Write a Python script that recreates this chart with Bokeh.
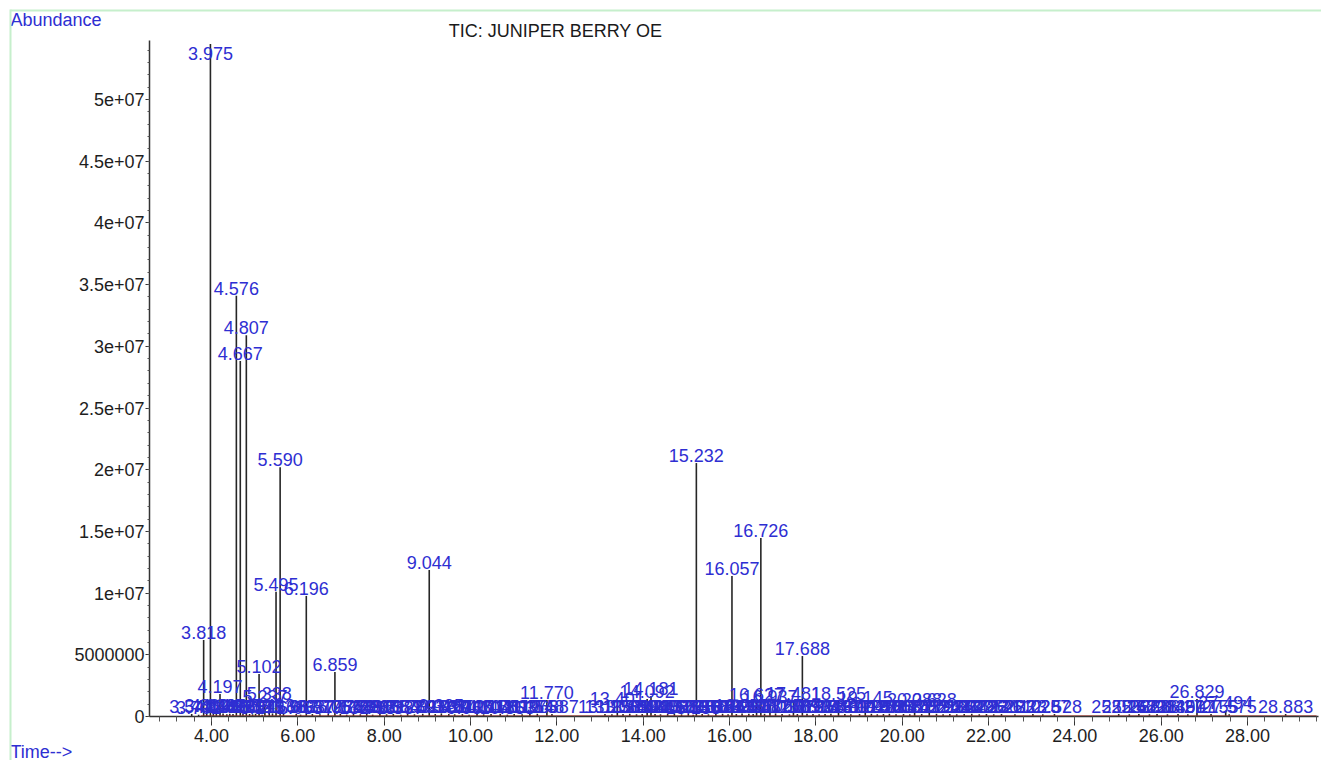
import numpy as np
from bokeh.plotting import figure
from bokeh.models import (ColumnDataSource, FixedTicker, NumeralTickFormatter,
                          Label, BoxAnnotation, Range1d)
from bokeh.core.properties import value
from bokeh.embed import file_html
from bokeh.resources import INLINE

# ---------------- data ----------------
title_text = "TIC: JUNIPER BERRY OE"
y_title = "Abundance"
x_title = "Time-->"

# labelled, clearly visible peaks (retention time, abundance at apex)
major_rt = [3.818, 3.975, 4.197, 4.576, 4.667, 4.807, 5.102, 5.237, 5.338,
            5.495, 5.590, 6.196, 6.859, 9.044, 11.770, 13.401, 14.092, 14.181,
            15.232, 16.057, 16.627, 16.726, 16.937, 17.481, 17.688, 18.525,
            19.145, 20.288, 20.628, 26.829, 27.494]
major_h = [6.2e6, 5.45e7, 1.82e6, 3.41e7, 2.88e7, 3.09e7, 3.44e6, 1.0e6, 1.26e6,
           1.01e7, 2.02e7, 9.77e6, 3.61e6, 1.187e7, 1.34e6, 0.85e6, 1.42e6, 1.66e6,
           2.054e7, 1.139e7, 1.2e6, 1.447e7, 1.0e6, 1.25e6, 4.9e6, 1.28e6,
           0.9e6, 0.75e6, 0.78e6, 1.42e6, 0.5e6]

# small peaks along the baseline (retention time, abundance)
minor_rt = [3.541, 3.702, 3.889, 4.043, 4.112, 4.268, 4.355, 4.423, 4.498, 4.729,
            4.882, 4.951, 5.021, 5.173, 5.413, 5.668, 5.963, 6.063, 6.337, 6.512,
            6.705, 6.985, 7.132, 7.289, 7.448, 7.596, 7.733, 7.901, 8.056, 8.212,
            8.387, 8.543, 8.702, 8.893, 9.183, 9.325, 9.497, 9.634, 9.812, 9.967,
            10.151, 10.304, 10.476, 10.689, 10.853, 11.012, 11.196, 11.375, 11.548,
            11.887, 13.115, 13.276, 13.533, 13.689, 13.846, 13.978, 14.275, 14.402,
            14.567, 14.723, 14.889, 15.046, 15.158, 15.367, 15.512, 15.684, 15.839,
            15.967, 16.158, 16.291, 16.448, 16.548, 16.812, 17.067, 17.218, 17.388,
            17.572, 17.795, 17.934, 18.076, 18.213, 18.349, 18.672, 18.811, 19.012,
            19.287, 19.423, 19.566, 19.704, 19.858, 20.031, 20.176, 20.452, 20.795,
            20.948, 21.103, 21.264, 21.437, 21.612, 21.786, 21.952, 22.121, 22.301,
            22.612, 23.028, 23.257, 23.528, 25.016, 25.262, 25.483, 25.728, 25.904,
            26.145, 26.390, 26.617, 27.155, 27.575, 28.883]
minor_h = [2.0e5, 1.5e5, 2.5e5, 3.0e5, 2.0e5, 2.5e5, 1.8e5, 2.2e5, 2.0e5, 2.5e5,
           2.0e5, 1.8e5, 2.2e5, 1.5e5, 2.5e5, 2.0e5, 2.0e5, 1.5e5, 2.0e5, 1.8e5,
           2.0e5, 2.2e5, 1.5e5, 2.0e5, 1.8e5, 2.0e5, 1.5e5, 2.2e5, 1.8e5, 2.0e5,
           1.5e5, 2.0e5, 1.8e5, 2.2e5, 2.0e5, 2.5e5, 2.0e5, 1.8e5, 2.0e5, 1.5e5,
           2.0e5, 1.8e5, 2.0e5, 2.2e5, 1.5e5, 2.0e5, 1.8e5, 2.0e5, 2.2e5,
           2.0e5, 2.0e5, 1.8e5, 2.0e5, 2.2e5, 1.8e5, 2.0e5, 2.0e5, 1.8e5,
           2.0e5, 2.2e5, 1.8e5, 2.0e5, 1.5e5, 2.0e5, 1.8e5, 2.0e5, 2.2e5,
           1.8e5, 2.0e5, 2.5e5, 2.2e5, 2.0e5, 2.2e5, 2.5e5, 2.0e5, 1.8e5,
           2.0e5, 2.2e5, 2.0e5, 1.8e5, 2.0e5, 2.2e5, 2.0e5, 1.8e5, 2.0e5,
           2.2e5, 1.8e5, 2.0e5, 2.2e5, 1.8e5, 2.0e5, 1.8e5, 2.0e5, 2.2e5,
           1.8e5, 2.0e5, 1.8e5, 2.0e5, 2.2e5, 1.8e5, 2.0e5, 1.8e5, 2.0e5,
           1.8e5, 2.0e5, 1.8e5, 2.0e5, 2.0e5, 1.8e5, 2.0e5, 1.8e5, 2.0e5,
           1.8e5, 2.0e5, 1.8e5, 2.0e5, 1.8e5, 2.0e5]

baseline_rt = [3.75, 29.6]
baseline_h = [0.6e5, 0.6e5]

x_ticks = [4, 6, 8, 10, 12, 14, 16, 18, 20, 22, 24, 26, 28]
y_ticks = [0, 5000000, 10000000, 15000000, 20000000, 25000000, 30000000,
           35000000, 40000000, 45000000, 50000000]
y_tick_labels = ["0", "5000000", "1e+07", "1.5e+07", "2e+07", "2.5e+07", "3e+07",
                 "3.5e+07", "4e+07", "4.5e+07", "5e+07"]

# ---------------- styling constants ----------------
FONT = "Liberation Sans"
LABEL_BLUE = "#2e2ed2"
TRACE = "#262626"
GREEN = "#c6efcc"
LABEL_CAP = 5.31e7
W, H = 1321, 760

# axis extents (data units)
X_AXIS_START, X_AXIS_END = 2.564, 29.645
Y_AXIS_TOP = 5.478e7

rt_all = major_rt + minor_rt
h_all = major_h + minor_h
src = ColumnDataSource(dict(
    rt=rt_all,
    h=h_all,
    base=[0.0] * len(rt_all),
    ly=[min(v, LABEL_CAP) for v in h_all],
    lbl=[f"{v:.3f}" for v in rt_all],
))

p = figure(width=W, height=H, output_backend="svg", toolbar_location=None,
           x_range=Range1d(-0.888, 29.714), y_range=Range1d(-3.5656e6, 5.8023e7),
           min_border_left=0, min_border_right=0, min_border_top=0,
           min_border_bottom=0)
p.outline_line_color = None
p.grid.visible = False
p.background_fill_color = "white"
p.border_fill_color = "white"

# axes placed at fixed data positions, limited by bounds
p.xaxis.fixed_location = 0
p.yaxis.fixed_location = X_AXIS_START
p.xaxis.bounds = (X_AXIS_START, X_AXIS_END)
p.yaxis.bounds = (0, Y_AXIS_TOP)

# peaks
p.segment(x0="rt", y0="base", x1="rt", y1="h", source=src,
          line_color=TRACE, line_width=1.6)
# integration baseline
p.line(baseline_rt, baseline_h, line_color="#b23a2e", line_width=1.2, line_alpha=0.85)

# peak labels
p.text(x="rt", y="ly", text="lbl", source=src, text_align="center",
       text_baseline="bottom", y_offset=-1, text_color=LABEL_BLUE,
       text_font=value(FONT), text_font_size="18px")

# ticks
xmin_ticks = list(np.round(np.arange(2.8, 29.61, 0.4), 2))
p.xaxis.ticker = FixedTicker(ticks=x_ticks, minor_ticks=xmin_ticks)
p.xaxis.formatter = NumeralTickFormatter(format="0.00")
ymin_ticks = list(np.arange(0, 5.45e7, 1e6))
p.yaxis.ticker = FixedTicker(ticks=y_ticks, minor_ticks=ymin_ticks)
p.yaxis.major_label_overrides = dict(zip(y_ticks, y_tick_labels))

for ax in (p.xaxis, p.yaxis):
    ax.axis_line_color = "#333333"
    ax.axis_line_width = 1.5
    ax.major_tick_line_color = "#333333"
    ax.minor_tick_line_color = "#555555"
    ax.major_label_text_font = FONT
    ax.major_label_text_font_size = "18px"
    ax.major_label_text_color = "#1e1e1e"
    ax.major_tick_in = 0
    ax.minor_tick_in = 0

p.xaxis.major_tick_out = 9
p.xaxis.minor_tick_out = 5
p.xaxis.major_label_standoff = 3
p.yaxis.major_tick_out = 4
p.yaxis.minor_tick_out = 2
p.yaxis.major_label_standoff = 1

# texts (screen units, from the bottom-left corner of the canvas)
p.add_layout(Label(x=555, y=H - 30, x_units="screen", y_units="screen", text=title_text,
                   text_align="center", text_baseline="middle", text_color="#1a1a1a",
                   text_font=FONT, text_font_size="18px"))
p.add_layout(Label(x=10, y=H - 19, x_units="screen", y_units="screen", text=y_title,
                   text_align="left", text_baseline="middle", text_color=LABEL_BLUE,
                   text_font=FONT, text_font_size="18px"))
p.add_layout(Label(x=10, y=H - 751, x_units="screen", y_units="screen", text=x_title,
                   text_align="left", text_baseline="middle", text_color=LABEL_BLUE,
                   text_font=FONT, text_font_size="18px"))

# light green frame lines (top and left)
p.add_layout(BoxAnnotation(left=10, right=W, bottom=H - 11, top=H - 9,
                           left_units="screen", right_units="screen",
                           bottom_units="screen", top_units="screen",
                           fill_color=GREEN, fill_alpha=1.0, line_color=None))
p.add_layout(BoxAnnotation(left=9, right=11, bottom=0, top=H - 9,
                           left_units="screen", right_units="screen",
                           bottom_units="screen", top_units="screen",
                           fill_color=GREEN, fill_alpha=1.0, line_color=None))

open("out.html", "w").write(file_html(p, INLINE))
